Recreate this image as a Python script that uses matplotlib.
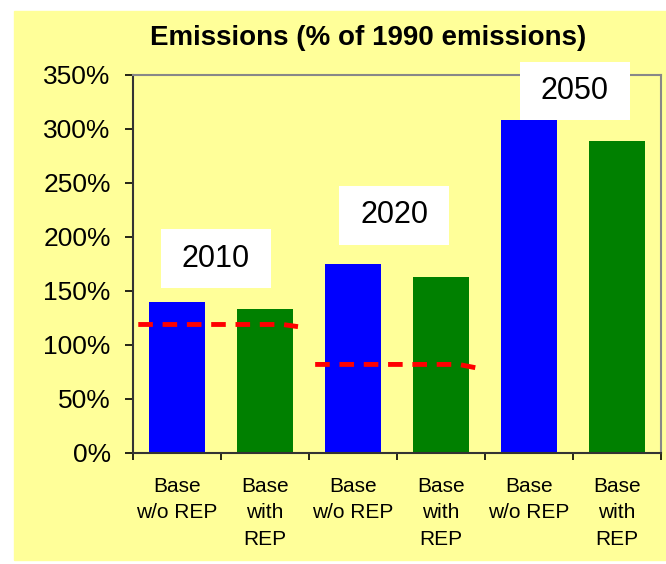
import matplotlib
matplotlib.use('Agg')
import matplotlib.pyplot as plt
from matplotlib.patches import Rectangle
from matplotlib.ticker import FuncFormatter, MultipleLocator

plt.rcParams['font.family'] = ['Liberation Sans', 'DejaVu Sans']

labels = ['Base\nw/o REP', 'Base\nwith\nREP', 'Base\nw/o REP',
          'Base\nwith\nREP', 'Base\nw/o REP', 'Base\nwith\nREP']
values = [140, 133, 175, 163, 308, 289]
colors = ['#0000FF', '#008000'] * 3

# targets (red dashed lines): level, x positions, drop at the end
target_levels = [119, 82]
target_x = [[-0.44, 1.2, 1.375], [1.57, 3.2, 3.39]]
target_drop = [2, 3]

years = ['2010', '2020', '2050']
year_pos = [(0.44, 180), (2.47, 220), (4.52, 335)]

yellow = '#FFFF99'

fig = plt.figure(figsize=(6.66, 5.64), dpi=100)
fig.patches.append(Rectangle((14 / 666, 4 / 564), 1, 1 - 15 / 564,
                             transform=fig.transFigure, color=yellow, zorder=-10))

ax = fig.add_axes([133 / 666, 1 - 453 / 564, 528 / 666, 378 / 564])
ax.set_facecolor(yellow)

x = list(range(len(values)))
ax.bar(x, values, width=0.64, color=colors, zorder=2)

for lvl, xs, d in zip(target_levels, target_x, target_drop):
    ax.plot(xs, [lvl, lvl, lvl - d], color='#FF0000', lw=3.5,
            ls=(0, (3, 2)), zorder=3)

bw, bh = 1.25, 54
for yr, (px, py) in zip(years, year_pos):
    ax.add_patch(Rectangle((px - bw / 2, py - bh / 2), bw, bh, fc='white',
                           ec='none', zorder=4, clip_on=False))
    ax.text(px, py, yr, fontsize=22, ha='center', va='center', zorder=5)

ax.set_xlim(-0.5, 5.5)
ax.set_ylim(0, 350)
ax.yaxis.set_major_locator(MultipleLocator(50))
ax.yaxis.set_major_formatter(FuncFormatter(lambda v, p: '%d%%' % v))
ax.tick_params(axis='y', labelsize=19, length=6, width=1.2, direction='out', pad=10)

ax.set_xticks([i + 0.5 for i in range(-1, 6)])
ax.set_xticklabels([])
ax.set_xticks(x, minor=True)
ax.set_xticklabels(labels, minor=True, fontsize=15, linespacing=1.5, va='top')
ax.tick_params(axis='x', which='major', length=5, width=1.2, direction='out')
ax.tick_params(axis='x', which='minor', length=0, pad=17)

for s in ['left', 'bottom']:
    ax.spines[s].set_color('#333333')
    ax.spines[s].set_linewidth(1.5)
for s in ['top', 'right']:
    ax.spines[s].set_color('#888888')
    ax.spines[s].set_linewidth(1.5)

fig.text(368 / 666, 1 - 38 / 564, 'Emissions (% of 1990 emissions)',
         fontsize=20, fontweight='bold', ha='center', va='center')

fig.savefig('out.png', dpi=100)
